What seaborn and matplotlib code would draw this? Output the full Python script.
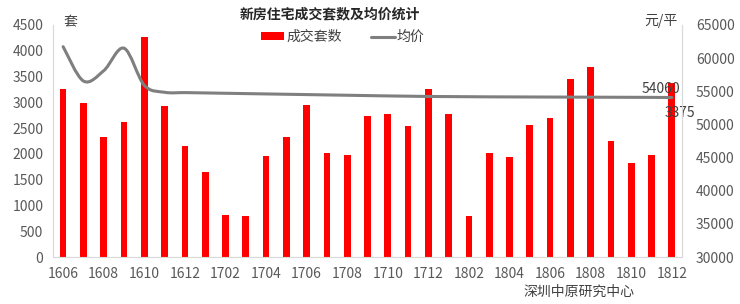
import matplotlib
matplotlib.use("Agg")
import matplotlib.pyplot as plt
from matplotlib.path import Path
from matplotlib.patches import PathPatch, Patch
from matplotlib.lines import Line2D
import seaborn as sns
import pandas as pd

months = ["1606", "1607", "1608", "1609", "1610", "1611", "1612",
          "1701", "1702", "1703", "1704", "1705", "1706", "1707", "1708",
          "1709", "1710", "1711", "1712",
          "1801", "1802", "1803", "1804", "1805", "1806", "1807", "1808",
          "1809", "1810", "1811", "1812"]
volume = [3250, 2990, 2320, 2610, 4270, 2920, 2160,
          1650, 810, 790, 1960, 2320, 2950, 2010, 1985,
          2730, 2780, 2540, 3250,
          2780, 800, 2010, 1930, 2560, 2700, 3450, 3680,
          2250, 1830, 1980, 3375]
price = [61730, 56550, 58100, 61500, 55900, 54850, 54800,
         54750, 54700, 54650, 54600, 54550, 54500, 54450, 54400,
         54350, 54300, 54260, 54220,
         54200, 54180, 54160, 54150, 54140, 54130, 54120, 54110,
         54100, 54090, 54080, 54060]
left_ticks = [0, 500, 1000, 1500, 2000, 2500, 3000, 3500, 4000, 4500]
right_ticks = [30000, 35000, 40000, 45000, 50000, 55000, 60000, 65000]

title = "新房住宅成交套数及均价统计"
bar_label = "成交套数"
line_label = "均价"
left_unit = "套"
right_unit = "元/平"
source = "深圳中原研究中心"

sns.set_style("white")
plt.rcParams["font.family"] = ["Noto Sans CJK SC", "DejaVu Sans"]

fig = plt.figure(figsize=(7.4, 3.04), dpi=100)
ax = fig.add_axes([0.0716, 0.1546, 0.85, 0.7632])

df = pd.DataFrame({"month": months, "volume": volume})
sns.barplot(data=df, x="month", y="volume", order=months, color="#FF0000",
            saturation=1, width=0.33, ax=ax, linewidth=0)
ax.set_xlim(-0.5, len(months) - 0.5)
ax.set_ylim(0, 4500)
ax.set_yticks(left_ticks)
ax.set_xticks(range(0, len(months), 2))
ax.set_xticklabels(months[::2])
ax.set_xlabel("")
ax.set_ylabel("")
tc = "#595959"
ax.tick_params(axis="both", length=0, labelsize=10, colors=tc, pad=7)
for s in ["left", "bottom", "right"]:
    ax.spines[s].set_color("#D9D9D9")
ax.spines["top"].set_visible(False)

ax2 = ax.twinx()
ax2.set_ylim(30000, 65000)
ax2.set_yticks(right_ticks)
ax2.tick_params(axis="y", length=0, labelsize=10, colors=tc, pad=10)
for s in ["left", "bottom", "top"]:
    ax2.spines[s].set_visible(False)
ax2.spines["right"].set_color("#D9D9D9")

# smoothed line (Catmull-Rom as cubic Bezier segments)
xs = list(range(len(price)))
verts = [(xs[0], price[0])]
codes = [Path.MOVETO]
n = len(price)
for i in range(n - 1):
    p0 = price[i - 1] if i > 0 else price[i]
    p1, p2 = price[i], price[i + 1]
    p3 = price[i + 2] if i + 2 < n else price[i + 1]
    x0 = xs[i - 1] if i > 0 else xs[i]
    x3 = xs[i + 2] if i + 2 < n else xs[i + 1]
    c1 = (xs[i] + (xs[i + 1] - x0) / 6, p1 + (p2 - p0) / 6)
    c2 = (xs[i + 1] - (x3 - xs[i]) / 6, p2 - (p3 - p1) / 6)
    verts += [c1, c2, (xs[i + 1], p2)]
    codes += [Path.CURVE4] * 3
ax2.add_patch(PathPatch(Path(verts, codes), facecolor="none",
                        edgecolor="#7F7F7F", lw=2.2, capstyle="round"))

ax2.text(n - 1 + 0.4, price[-1] + 1300, f"{price[-1]}", ha="right",
         va="center", fontsize=10, color="#404040")
ax.text(n - 1 + 0.4, volume[-1] - 580, f"{volume[-1]}", ha="center",
        va="center", fontsize=10, color="#404040")

fig.text(0.446, 0.952, title, ha="center", va="center", fontsize=10,
         fontweight="bold", color="#262626")
fig.text(0.086, 0.925, left_unit, ha="left", va="center", fontsize=10,
         color="#404040")
fig.text(0.915, 0.932, right_unit, ha="right", va="center", fontsize=10,
         color="#404040")
fig.text(0.783, 0.04, source, ha="center", va="center", fontsize=10,
         color="#404040")

handles = [Patch(facecolor="#FF0000", edgecolor="none"),
           Line2D([0], [0], color="#7F7F7F", lw=2.2)]
fig.legend(handles, [bar_label, line_label], loc="center",
           bbox_to_anchor=(0.463, 0.878), ncol=2, frameon=False,
           fontsize=10, handlelength=1.7, handleheight=0.5,
           columnspacing=2.1, handletextpad=0.15, labelcolor="#404040")

fig.savefig("out.png", dpi=100)
